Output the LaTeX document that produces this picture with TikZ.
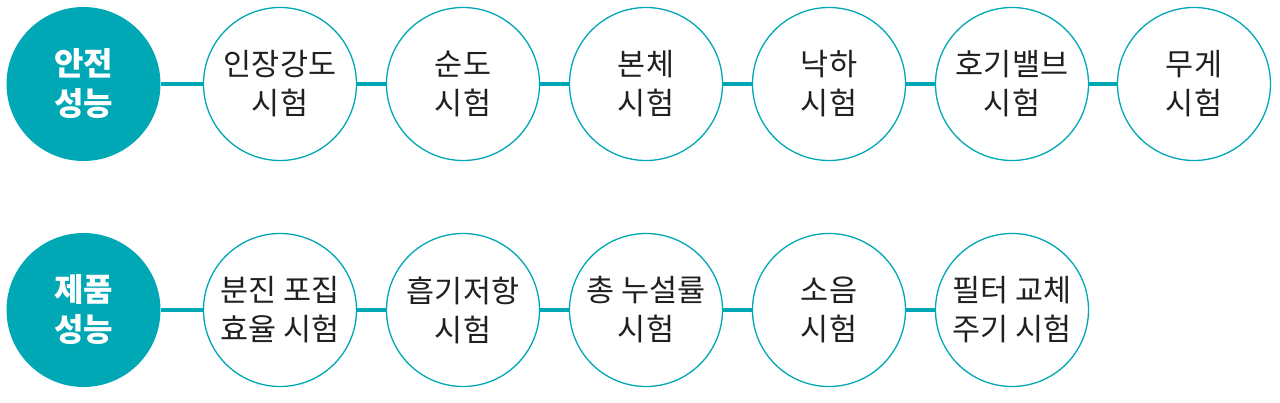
\documentclass[tikz,border=0pt]{standalone}
\usepackage{fontspec}
\newfontfamily\kr{Noto Sans CJK KR}
\definecolor{teal}{HTML}{00A8B6}
\definecolor{ink}{HTML}{231F20}
\begin{document}
\begin{tikzpicture}[x=1pt,y=-1pt,
  head/.style={circle,fill=teal,minimum size=154pt,inner sep=0pt,text=white,
    font=\kr\bfseries\fontsize{32}{40}\selectfont,align=center},
  test/.style={circle,draw=teal,line width=1.3pt,fill=white,minimum size=153pt,inner sep=0pt,text=ink,
    font=\kr\fontsize{30.5}{39}\selectfont,align=center},
  link/.style={draw=teal,line width=4pt}]
\useasboundingbox (0,0) rectangle (1280,402);
% row 1
\node[head] (h1) at (83.5,84) {안전\\성능};
\node[test] (a1) at (280,84) {인장강도\\시험};
\node[test] (a2) at (463,84) {순도\\시험};
\node[test] (a3) at (646,84) {본체\\시험};
\node[test] (a4) at (829,84) {낙하\\시험};
\node[test] (a5) at (1012,84) {호기밸브\\시험};
\node[test] (a6) at (1194,84) {무게\\시험};
\draw[link] (h1) -- (a1);
\draw[link] (a1) -- (a2);
\draw[link] (a2) -- (a3);
\draw[link] (a3) -- (a4);
\draw[link] (a4) -- (a5);
\draw[link] (a5) -- (a6);
% row 2
\node[head] (h2) at (83.5,310) {제품\\성능};
\node[test] (b1) at (280,310) {분진 포집\\효율 시험};
\node[test] (b2) at (463,310) {흡기저항\\시험};
\node[test] (b3) at (646,310) {총 누설률\\시험};
\node[test] (b4) at (829,310) {소음\\시험};
\node[test] (b5) at (1012,310) {필터 교체\\주기 시험};
\draw[link] (h2) -- (b1);
\draw[link] (b1) -- (b2);
\draw[link] (b2) -- (b3);
\draw[link] (b3) -- (b4);
\draw[link] (b4) -- (b5);
\end{tikzpicture}
\end{document}
